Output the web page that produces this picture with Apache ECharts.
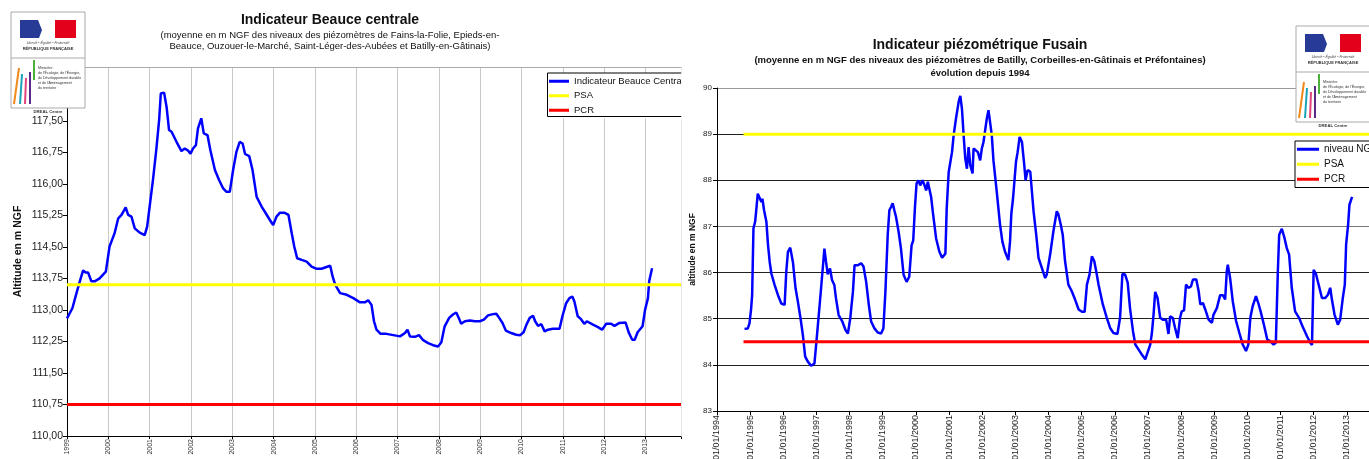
<!DOCTYPE html>
<html>
<head>
<meta charset="utf-8">
<script src="https://cdn.jsdelivr.net/npm/echarts@6/dist/echarts.min.js"></script>
<style>
  html, body { margin: 0; padding: 0; background: #fff; }
  #chart { width: 1369px; height: 459px; }
</style>
</head>
<body>
<div id="chart"></div>
<script>
// Beauce centrale (left chart), decimal years / m NGF
var beauceDates = [1999.00,1999.13,1999.23,1999.31,1999.39,1999.45,1999.51,1999.59,1999.67,1999.79,1999.94,
  2000.03,2000.15,2000.24,2000.32,2000.42,2000.48,2000.56,2000.64,2000.76,2000.88,2000.94,
  2001.00,2001.08,2001.16,2001.23,2001.27,2001.35,2001.41,2001.47,2001.53,2001.65,2001.77,2001.85,2001.93,2001.99,
  2002.05,2002.12,2002.17,2002.25,2002.31,2002.40,2002.47,2002.58,2002.68,2002.78,2002.86,2002.94,
  2003.02,2003.10,2003.18,2003.25,2003.31,2003.41,2003.49,2003.59,2003.71,2003.81,2003.91,2003.99,
  2004.07,2004.15,2004.27,2004.36,2004.44,2004.50,2004.57,2004.68,2004.80,2004.92,
  2005.03,2005.16,2005.28,2005.37,2005.43,2005.49,2005.61,2005.77,2005.93,
  2006.09,2006.21,2006.29,2006.37,2006.43,2006.49,2006.59,2006.73,2006.90,
  2007.06,2007.18,2007.24,2007.30,2007.42,2007.52,2007.62,2007.74,2007.86,2007.98,
  2008.06,2008.14,2008.25,2008.34,2008.42,2008.49,2008.54,2008.63,2008.75,2008.87,2008.99,
  2009.09,2009.19,2009.31,2009.39,2009.46,2009.54,2009.62,2009.75,2009.87,2009.97,
  2010.05,2010.12,2010.20,2010.28,2010.33,2010.40,2010.48,2010.56,2010.64,2010.76,2010.92,2010.99,
  2011.08,2011.16,2011.23,2011.28,2011.36,2011.44,2011.52,2011.58,2011.73,2011.85,2011.95,
  2012.05,2012.17,2012.25,2012.37,2012.52,2012.60,2012.68,2012.74,2012.81,2012.93,2012.99,
  2013.06,2013.09,2013.16];
var beauceLevels = [112.80,113.04,113.40,113.68,113.94,113.89,113.89,113.68,113.68,113.75,113.91,
  114.51,114.82,115.18,115.26,115.44,115.26,115.22,114.94,114.84,114.78,114.98,
  115.46,116.09,116.80,117.52,118.15,118.17,117.83,117.28,117.24,117.00,116.78,116.84,116.79,116.72,
  116.84,116.92,117.32,117.56,117.20,117.16,116.80,116.33,116.09,115.89,115.81,115.81,
  116.33,116.76,117.00,116.96,116.71,116.66,116.33,115.69,115.46,115.30,115.14,115.02,
  115.22,115.31,115.31,115.26,114.82,114.51,114.23,114.19,114.15,114.03,
  113.98,113.98,114.02,114.05,113.79,113.60,113.40,113.36,113.28,
  113.18,113.18,113.23,113.12,112.73,112.53,112.43,112.43,112.40,
  112.37,112.45,112.53,112.37,112.36,112.40,112.28,112.21,112.16,112.13,
  112.23,112.61,112.81,112.89,112.94,112.79,112.67,112.73,112.75,112.73,112.73,
  112.77,112.87,112.90,112.91,112.81,112.69,112.51,112.45,112.41,112.40,
  112.47,112.65,112.81,112.86,112.73,112.62,112.66,112.49,112.53,112.55,112.55,112.85,
  113.16,113.28,113.32,113.20,112.85,112.78,112.67,112.73,112.65,112.59,112.53,
  112.67,112.67,112.62,112.69,112.70,112.45,112.29,112.29,112.47,112.61,113.00,
  113.28,113.68,113.99];
var beauceThresholds = { PSA: 113.6, PCR: 110.75 };
var beauceRange = [1999, 2013.86];
var beauceTicks = [110, 110.75, 111.5, 112.25, 113, 113.75, 114.5, 115.25, 116, 116.75, 117.5];

// Fusain (right chart)
var fusainDates = [1994.83,1994.93,1994.98,1995.03,1995.06,1995.10,1995.15,1995.18,1995.23,1995.28,1995.34,1995.37,1995.42,1995.49,1995.54,1995.59,1995.64,1995.74,1995.84,1995.94,
  1996.04,1996.09,1996.14,1996.21,1996.29,1996.37,1996.44,1996.52,1996.59,1996.66,1996.74,1996.84,1996.94,1996.99,
  1997.07,1997.14,1997.24,1997.29,1997.34,1997.41,1997.47,1997.54,1997.59,1997.67,1997.78,1997.88,1997.95,
  1998.02,1998.10,1998.15,1998.25,1998.35,1998.42,1998.50,1998.58,1998.65,1998.75,1998.85,1998.95,
  1999.02,1999.08,1999.15,1999.20,1999.25,1999.30,1999.35,1999.40,1999.48,1999.55,1999.63,1999.72,1999.80,1999.87,1999.92,1999.97,
  2000.02,2000.08,2000.13,2000.20,2000.25,2000.31,2000.36,2000.41,2000.46,2000.51,2000.61,2000.71,2000.79,2000.89,2000.93,2000.99,
  2001.09,2001.14,2001.21,2001.29,2001.34,2001.39,2001.44,2001.49,2001.54,2001.59,2001.64,2001.71,2001.74,2001.79,2001.87,2001.94,2001.99,
  2002.04,2002.09,2002.14,2002.19,2002.24,2002.29,2002.34,2002.44,2002.54,2002.61,2002.69,2002.79,2002.84,2002.88,2002.93,
  2003.02,2003.07,2003.13,2003.20,2003.27,2003.31,2003.37,2003.45,2003.55,2003.63,2003.70,2003.80,2003.90,2003.95,
  2004.05,2004.15,2004.25,2004.30,2004.37,2004.43,2004.50,2004.60,2004.70,2004.80,2004.91,
  2005.01,2005.09,2005.16,2005.24,2005.31,2005.38,2005.44,2005.51,2005.56,2005.64,2005.76,2005.86,2005.96,
  2006.08,2006.16,2006.23,2006.31,2006.39,2006.46,2006.55,2006.62,2006.72,2006.82,2006.92,2006.97,
  2007.07,2007.12,2007.17,2007.22,2007.29,2007.37,2007.45,2007.55,2007.62,2007.67,2007.75,2007.82,2007.90,2007.97,
  2008.02,2008.09,2008.15,2008.22,2008.30,2008.36,2008.46,2008.53,2008.58,2008.66,2008.73,2008.83,2008.93,2008.98,
  2009.08,2009.18,2009.26,2009.33,2009.38,2009.41,2009.48,2009.56,2009.66,2009.76,2009.86,2009.96,
  2010.03,2010.09,2010.16,2010.26,2010.33,2010.40,2010.50,2010.60,2010.70,2010.79,2010.86,2010.92,2010.96,
  2011.04,2011.12,2011.19,2011.26,2011.34,2011.44,2011.56,2011.66,2011.80,2011.90,2011.95,
  2012.00,2012.07,2012.15,2012.25,2012.35,2012.43,2012.50,2012.55,2012.63,2012.73,2012.80,2012.88,2012.94,2012.98,
  2013.04,2013.08,2013.16];
var fusainLevels = [84.78,84.79,84.90,85.22,85.51,86.96,87.10,87.32,87.71,87.69,87.53,87.60,87.35,87.10,86.59,86.23,85.98,85.73,85.51,85.33,
  85.30,86.02,86.45,86.54,86.23,85.66,85.37,85.01,84.65,84.18,84.07,83.98,84.03,84.43,
  85.08,85.66,86.52,86.23,85.96,86.09,85.84,85.73,85.44,85.08,84.94,84.75,84.68,
  85.01,85.58,86.16,86.16,86.20,86.13,85.80,85.30,84.94,84.79,84.70,84.68,
  84.79,85.58,86.81,87.35,87.42,87.50,87.35,87.21,86.88,86.52,85.95,85.80,85.91,86.59,86.70,87.39,
  87.93,88.00,87.89,88.00,87.91,87.78,87.97,87.97,87.64,87.32,86.74,86.45,86.32,86.41,87.39,88.18,
  88.61,88.98,89.34,89.70,89.83,89.55,88.98,88.47,88.25,88.72,88.33,88.15,88.69,88.72,88.61,88.43,88.69,
  88.83,88.83,89.34,89.52,89.48,88.98,88.43,87.75,87.03,86.67,86.45,86.27,86.67,87.28,87.60,
  88.40,88.61,88.94,88.83,88.33,88.00,88.22,88.19,87.33,86.82,86.32,86.10,85.88,85.96,
  86.39,86.90,87.33,87.26,87.04,86.82,86.25,85.74,85.60,85.42,85.20,
  85.15,85.15,85.74,85.96,86.35,86.25,86.03,85.74,85.70,85.31,85.02,84.80,84.69,
  84.67,85.02,85.97,85.96,85.78,85.23,84.73,84.44,84.33,84.22,84.12,84.14,
  84.44,84.69,85.09,85.58,85.45,85.02,84.98,84.98,84.67,85.05,85.02,84.80,84.58,85.02,
  85.16,85.18,85.74,85.67,85.70,85.85,85.85,85.60,85.31,85.34,85.20,84.98,84.91,85.09,
  85.23,85.51,85.51,85.42,86.03,86.17,85.88,85.38,84.95,84.69,84.44,84.30,
  84.44,85.02,85.27,85.49,85.34,85.16,84.87,84.55,84.51,84.44,84.48,86.03,86.82,
  86.95,86.75,86.53,86.39,85.67,85.16,85.02,84.84,84.62,84.48,84.43,
  86.06,85.97,85.74,85.45,85.45,85.52,85.67,85.42,85.09,84.87,84.98,85.45,85.74,86.61,
  87.04,87.47,87.64];
var fusainThresholds = { PSA: 89, PCR: 84.5 };
var fusainRange = [1994, 2013.67];
var fusainThresholdStart = 1994.8;

function zip(xs, ys) {
    return xs.map(function (x, i) { return [x, ys[i]]; });
}
function flat(x0, x1, v) {
    return [[x0, v], [x1, v]];
}

// Logo drawn as decoration over the plot corner
function logo(x0, y0) {
    var els = [];
    var z = 100;
    els.push({ type: 'rect', z: z, shape: { x: x0, y: y0, width: 74, height: 96 },
        style: { fill: '#fff', stroke: '#aaa', lineWidth: 1 } });
    els.push({ type: 'rect', z: z, shape: { x: x0 + 9, y: y0 + 8, width: 24, height: 18 }, style: { fill: '#263a96' } });
    els.push({ type: 'rect', z: z, shape: { x: x0 + 44, y: y0 + 8, width: 21, height: 18 }, style: { fill: '#e2001a' } });
    els.push({ type: 'polygon', z: z, shape: { points: [[x0 + 27, y0 + 8], [x0 + 36, y0 + 8], [x0 + 40, y0 + 14], [x0 + 36, y0 + 18], [x0 + 38, y0 + 26], [x0 + 28, y0 + 26], [x0 + 31, y0 + 18]] },
        style: { fill: '#fff' } });
    els.push({ type: 'text', z: z, x: x0 + 37, y: y0 + 31, style: { text: 'Liberté • Égalité • Fraternité', fontSize: 3.5, fontStyle: 'italic', fill: '#444', align: 'center', verticalAlign: 'middle' } });
    els.push({ type: 'text', z: z, x: x0 + 37, y: y0 + 37, style: { text: 'RÉPUBLIQUE FRANÇAISE', fontSize: 4, fontWeight: 'bold', fill: '#333', align: 'center', verticalAlign: 'middle' } });
    els.push({ type: 'line', z: z, shape: { x1: x0, y1: y0 + 46, x2: x0 + 74, y2: y0 + 46 }, style: { stroke: '#aaa', lineWidth: 1 } });
    var strokes = [
        ['#f08a1c', 3, 92, 8, 56], ['#1aa3b8', 9, 92, 11, 62], ['#e0457b', 14, 92, 15, 66],
        ['#5b2a86', 19, 92, 19, 60], ['#4caf3a', 23, 68, 23, 48]
    ];
    strokes.forEach(function (s) {
        els.push({ type: 'line', z: z, shape: { x1: x0 + s[1], y1: y0 + s[2], x2: x0 + s[3], y2: y0 + s[4] },
            style: { stroke: s[0], lineWidth: 2 } });
    });
    var lines = ['Ministère', "de l'Écologie, de l'Énergie,", 'du Développement durable', "et de l'Aménagement", 'du territoire'];
    lines.forEach(function (t, i) {
        els.push({ type: 'text', z: z, x: x0 + 27, y: y0 + 56 + i * 5, style: { text: t, fontSize: 3.6, fill: '#333', verticalAlign: 'middle' } });
    });
    els.push({ type: 'text', z: z, x: x0 + 37, y: y0 + 100, style: { text: 'DREAL Centre', fontSize: 4.2, fontWeight: 'bold', fill: '#333', align: 'center', verticalAlign: 'middle' } });
    return els;
}

var lineStyles = {
    blue: { color: '#0000ff', width: 2.5 },
    yellow: { color: '#ffff00', width: 3 },
    red: { color: '#ff0000', width: 3 }
};
function lineSeries(name, xi, yi, data, st) {
    return {
        name: name, type: 'line', xAxisIndex: xi, yAxisIndex: yi, data: data,
        showSymbol: false, symbol: 'none', lineStyle: st, itemStyle: { color: st.color },
        emphasis: { disabled: true }
    };
}

var intOnly = function (v) { return Math.abs(v - Math.round(v)) < 1e-6 ? String(Math.round(v)) : ''; };

var option = {
    animation: false,
    textStyle: { fontFamily: 'Liberation Sans' },
    title: [
        {
            text: 'Indicateur Beauce centrale', left: 330, top: 13, textAlign: 'center', padding: 0, itemGap: 3,
            textStyle: { fontSize: 14, fontWeight: 'bold', color: '#111' },
            subtext: '(moyenne en m NGF des niveaux des piézomètres de Fains-la-Folie, Epieds-en-\nBeauce, Ouzouer-le-Marché, Saint-Léger-des-Aubées et Batilly-en-Gâtinais)',
            subtextStyle: { fontSize: 9.5, color: '#111', lineHeight: 11 }
        },
        {
            text: 'Indicateur piézométrique Fusain', left: 980, top: 38, textAlign: 'center', padding: 0, itemGap: 2,
            textStyle: { fontSize: 14, fontWeight: 'bold', color: '#111' },
            subtext: '(moyenne en m NGF des niveaux des piézomètres de Batilly, Corbeilles-en-Gâtinais et Préfontaines)\névolution depuis 1994',
            subtextStyle: { fontSize: 9.5, fontWeight: 'bold', color: '#111', lineHeight: 13 }
        }
    ],
    legend: [
        {
            data: ['Indicateur Beauce Centrale', 'PSA', 'PCR'], orient: 'vertical', left: 548, top: 73,
            padding: [2, 2, 2, 1], itemGap: 2, itemWidth: 20, itemHeight: 3, icon: 'rect',
            backgroundColor: '#fff', selectedMode: false,
            textStyle: { fontSize: 9.5, color: '#111', lineHeight: 12.5 }
        },
        {
            data: ['niveau NGF', 'PSA', 'PCR'], orient: 'vertical', left: 1295, top: 141,
            padding: [2, 4, 2, 2], itemGap: 2.5, itemWidth: 22, itemHeight: 3, icon: 'rect',
            backgroundColor: '#fff', borderColor: '#000', borderWidth: 1, selectedMode: false,
            textStyle: { fontSize: 10, color: '#111', lineHeight: 12.5 }
        }
    ],
    grid: [
        { left: 67, top: 67, width: 614, height: 369, outerBoundsMode: 'none', containLabel: false },
        { left: 717, top: 88, right: 0, height: 323, outerBoundsMode: 'none', containLabel: false }
    ],
    xAxis: [
        {
            type: 'value', gridIndex: 0, min: beauceRange[0], max: beauceRange[1], interval: 1,
            axisLine: { lineStyle: { color: '#000', width: 1 } },
            axisTick: { show: true, length: 3, lineStyle: { color: '#000' } },
            axisLabel: { rotate: 90, fontSize: 7, color: '#333', margin: 3, formatter: intOnly },
            splitLine: { show: true, lineStyle: { color: '#c8c8c8', width: 1 } }
        },
        {
            type: 'value', gridIndex: 0, position: 'top', min: beauceRange[0], max: beauceRange[1],
            axisLine: { lineStyle: { color: '#aaa', width: 1 } },
            axisTick: { show: false }, axisLabel: { show: false }, splitLine: { show: false }
        },
        {
            type: 'value', gridIndex: 1, min: fusainRange[0], max: fusainRange[1], interval: 1,
            axisLine: { lineStyle: { color: '#000', width: 1 } },
            axisTick: { show: true, length: 4, lineStyle: { color: '#000' } },
            axisLabel: {
                rotate: 90, fontSize: 9, color: '#222', margin: 4,
                formatter: function (v) { var s = intOnly(v); return s ? '01/01/' + s : ''; }
            },
            splitLine: { show: false }
        }
    ],
    yAxis: [
        {
            type: 'value', gridIndex: 0, min: 110, max: 118.78, interval: 0.75,
            axisLine: { show: true, lineStyle: { color: '#000', width: 1 } },
            axisTick: { show: true, length: 4, lineStyle: { color: '#000' } },
            axisLabel: {
                fontSize: 10.5, color: '#222', margin: 4,
                formatter: function (v) {
                    return beauceTicks.some(function (t) { return Math.abs(t - v) < 1e-6; }) ? v.toFixed(2).replace('.', ',') : '';
                }
            },
            splitLine: { show: false },
            name: 'Altitude en m NGF', nameLocation: 'middle', nameGap: 43,
            nameTextStyle: { fontSize: 10.5, fontWeight: 'bold', color: '#111' }
        },
        {
            type: 'value', gridIndex: 1, min: 83, max: 90, interval: 1,
            axisLine: { show: true, lineStyle: { color: '#000', width: 1 } },
            axisTick: { show: true, length: 4, lineStyle: { color: '#000' } },
            axisLabel: { fontSize: 8, color: '#222', margin: 5 },
            splitLine: { show: true, lineStyle: { color: ['#222', '#222', '#222', '#222', '#777', '#222', '#222', '#999'], width: 1 } },
            name: 'altitude en m NGF', nameLocation: 'middle', nameGap: 20,
            nameTextStyle: { fontSize: 8.5, fontWeight: 'bold', color: '#111' }
        }
    ],
    series: [
        lineSeries('Indicateur Beauce Centrale', 0, 0, zip(beauceDates, beauceLevels), lineStyles.blue),
        lineSeries('PSA', 0, 0, flat(beauceRange[0], beauceRange[1], beauceThresholds.PSA), lineStyles.yellow),
        lineSeries('PCR', 0, 0, flat(beauceRange[0], beauceRange[1], beauceThresholds.PCR), lineStyles.red),
        lineSeries('niveau NGF', 2, 1, zip(fusainDates, fusainLevels), lineStyles.blue),
        lineSeries('PSA', 2, 1, flat(fusainThresholdStart, fusainRange[1], fusainThresholds.PSA), lineStyles.yellow),
        lineSeries('PCR', 2, 1, flat(fusainThresholdStart, fusainRange[1], fusainThresholds.PCR), lineStyles.red)
    ],
    graphic: [].concat(
        // left legend frame (right side cut off at the image edge)
        [{ type: 'polyline', z: 100, shape: { points: [[684, 73], [547.5, 73], [547.5, 116.5], [684, 116.5]] },
           style: { fill: null, stroke: '#000', lineWidth: 1 } },
         { type: 'rect', z: 101, shape: { x: 681.5, y: 60, width: 4, height: 377 }, style: { fill: '#fff' } },
         { type: 'rect', z: 101, shape: { x: 681.5, y: 70, width: 12, height: 50 }, style: { fill: '#fff' } }],
        logo(11, 12),
        logo(1296, 26)
    )
};

var myChart = echarts.init(document.getElementById('chart'));
myChart.setOption(option);
</script>
</body>
</html>
